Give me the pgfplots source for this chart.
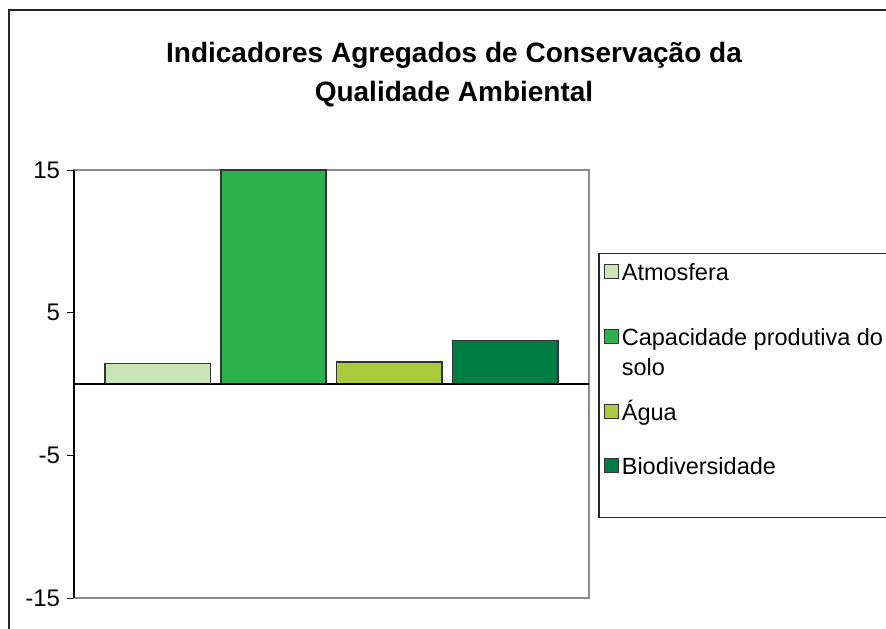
\documentclass[border=0pt]{standalone}
\usepackage{fontspec}
\setmainfont{Liberation Sans}
\usepackage{pgfplots}
\pgfplotsset{compat=1.18}
\definecolor{cAtm}{HTML}{C9E5B8}
\definecolor{cCap}{HTML}{2BB24C}
\definecolor{cAgua}{HTML}{AACC3C}
\definecolor{cBio}{HTML}{007D45}
\definecolor{edge}{HTML}{333333}
\pgfplotsset{
  mybar/.style={ybar, bar width=0.91, bar shift=0pt, draw=edge, line width=0.75pt,
    legend image code/.code={\draw[##1, draw=edge, line width=0.5pt] (0pt,0.8pt) rectangle (7pt,7.8pt);}},
}
\begin{document}
\begin{tikzpicture}[x=0.5pt,y=0.5pt]
\useasboundingbox (0,0) rectangle (886,628);
\clip (0,0) rectangle (886,628);
\fill[white] (0,0) rectangle (886,628);
\draw[line width=1pt,black!85] (9,-50) -- (9,618) -- (950,618);
\node[font=\bfseries\fontsize{14}{17}\selectfont, anchor=base] at (454,566) {Indicadores Agregados de Conservação da};
\node[font=\bfseries\fontsize{14}{17}\selectfont, anchor=base] at (454,527) {Qualidade Ambiental};
\begin{axis}[
  at={(64,21)}, anchor=south west,
  scale only axis, width=257.5pt, height=214pt,
  xmin=0.2775, xmax=4.7255, ymin=-15, ymax=15,
  xtick=\empty, ytick={-15,-5,5,15}, yticklabels={-15,-5,5,15},
  tick align=outside, ytick pos=left, major tick length=3.5pt,
  tick style={black, line width=0.5pt},
  yticklabel style={font=\fontsize{12}{14}\selectfont},
  axis line style={black!45, line width=0.75pt},
  clip=false,
  legend style={at={(axis description cs:1.0175,0.806)}, anchor=north west,
    draw=black!85, line width=0.7pt, inner xsep=2.5pt, inner ysep=3pt,
    row sep=15.5pt, font=\fontsize{11.75}{15}\selectfont,
    nodes={inner xsep=1.5pt, inner ysep=0pt},
    cells={anchor=base west}},
]
\addplot[mybar, fill=cAtm] coordinates {(1,1.45)};
\addlegendentry{Atmosfera\vphantom{Ápg}}
\addplot[mybar, fill=cCap] coordinates {(2,15)};
\addlegendentry{\vtop{\hbox{Capacidade produtiva do\rule{0pt}{15.5pt}}\hbox{solo}}}
\addplot[mybar, fill=cAgua] coordinates {(3,1.55)};
\addlegendentry{Água\rule{0pt}{20.5pt}}
\addplot[mybar, fill=cBio] coordinates {(4,3.05)};
\addlegendentry{Biodiversidade\vphantom{Ápg}}
\addlegendimage{empty legend}
\addlegendentry{}
\draw[black, line width=0.8pt] (rel axis cs:0,0) -- (rel axis cs:0,1);
\draw[black, line width=0.8pt] (rel axis cs:0,0.5) -- (rel axis cs:1,0.5);
\end{axis}
\end{tikzpicture}
\end{document}
